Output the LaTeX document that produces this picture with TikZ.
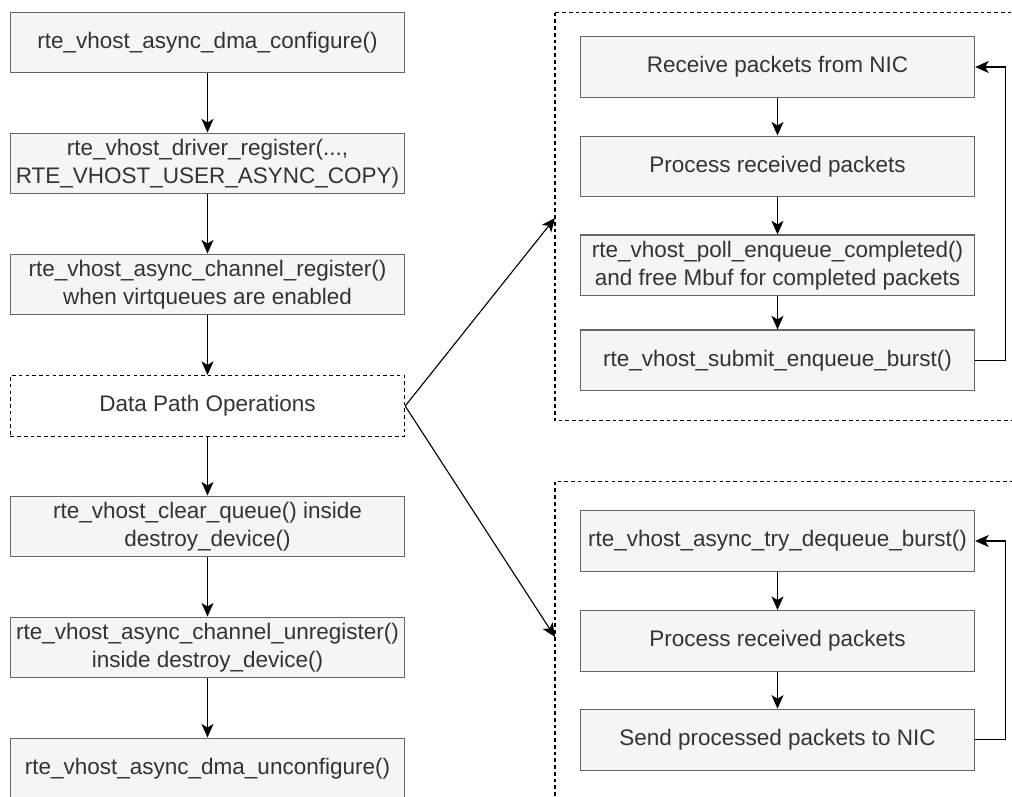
\documentclass[tikz,border=0pt]{standalone}
\usepackage{fontspec}
\setmainfont{Liberation Sans}
\usetikzlibrary{arrows.meta}

\definecolor{boxfill}{HTML}{F5F5F5}
\definecolor{boxline}{HTML}{666666}
\definecolor{boxtext}{HTML}{333333}

\begin{document}
\begin{tikzpicture}[x=0.025cm, y=-0.025cm,
    callbox/.style={draw=boxline, fill=boxfill, text=boxtext, line width=0.8pt,
      minimum width=9.85cm, minimum height=1.52cm, inner sep=0pt, align=center,
      font=\fontsize{16}{20}\selectfont},
    opsbox/.style={callbox, draw=black, fill=white, line width=0.9pt, dash pattern=on 2.6pt off 2.2pt},
    group/.style={draw=black, line width=0.9pt, dash pattern=on 2.6pt off 2.2pt},
    flow/.style={-{Stealth[length=0.34cm, width=0.3cm, inset=0.09cm]}, line width=0.8pt}]

    % Page frame
    \clip (0,0) rectangle (1012,796);

    % Setup and teardown calls
    \node[callbox] (dmacfg) at (207.5, 42.5) {rte\_vhost\_async\_dma\_configure()};
    \node[callbox] (drvreg) at (207.5, 163.5) {rte\_vhost\_driver\_register(...,\\RTE\_VHOST\_USER\_ASYNC\_COPY)};
    \node[callbox] (chreg) at (207.5, 284.5) {rte\_vhost\_async\_channel\_register()\\when virtqueues are enabled};
    \node[opsbox] (datapath) at (207.5, 406) {Data Path Operations};
    \node[callbox] (clearq) at (207.5, 526.5) {rte\_vhost\_clear\_queue() inside\\destroy\_device()};
    \node[callbox] (chunreg) at (207.5, 647.5) {rte\_vhost\_async\_channel\_unregister()\\inside destroy\_device()};
    \node[callbox] (dmaunc) at (207.5, 768.5) {rte\_vhost\_async\_dma\_unconfigure()};

    \draw[flow] (dmacfg) -- (drvreg);
    \draw[flow] (drvreg) -- (chreg);
    \draw[flow] (chreg) -- (datapath);
    \draw[flow] (datapath) -- (clearq);
    \draw[flow] (clearq) -- (chunreg);
    \draw[flow] (chunreg) -- (dmaunc);

    % Enqueue path
    \draw[group] (555, 12.7) rectangle (1040, 420.7);
    \coordinate (enqin) at (555, 218);
    \node[callbox] (rxnic) at (777.5, 67) {Receive packets from NIC};
    \node[callbox] (procrx) at (777.5, 166.5) {Process received packets};
    \node[callbox] (pollenq) at (777.5, 265.4) {rte\_vhost\_poll\_enqueue\_completed()\\and free Mbuf for completed packets};
    \node[callbox] (submitenq) at (777.5, 360.4) {rte\_vhost\_submit\_enqueue\_burst()};

    \draw[flow] (rxnic) -- (procrx);
    \draw[flow] (procrx) -- (pollenq);
    \draw[flow] (pollenq) -- (submitenq);
    \draw[flow] (submitenq.east) -- ++(30,0) |- (rxnic.east);

    % Dequeue path
    \draw[group] (555, 481.7) rectangle (1040, 830);
    \coordinate (deqin) at (555, 637);
    \node[callbox] (trydeq) at (777.5, 541) {rte\_vhost\_async\_try\_dequeue\_burst()};
    \node[callbox] (procdeq) at (777.5, 641) {Process received packets};
    \node[callbox] (txnic) at (777.5, 739.7) {Send processed packets to NIC};

    \draw[flow] (trydeq) -- (procdeq);
    \draw[flow] (procdeq) -- (txnic);
    \draw[flow] (txnic.east) -- ++(30,0) |- (trydeq.east);

    % Branches into the two paths
    \draw[flow] (datapath.east) -- (enqin);
    \draw[flow] (datapath.east) -- (deqin);
  \end{tikzpicture}
\end{document}
